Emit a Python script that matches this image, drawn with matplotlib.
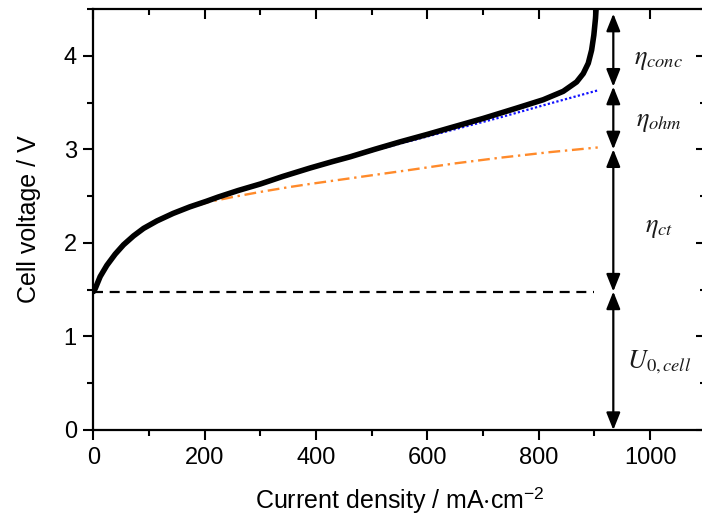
import matplotlib
matplotlib.use("Agg")
import matplotlib.pyplot as plt
from matplotlib.ticker import MultipleLocator

plt.rcParams['font.family'] = ['Liberation Sans', 'DejaVu Sans']
plt.rcParams['mathtext.fontset'] = 'stix'

# Measured polarisation curve (black)
j_cell = [0, 3, 12, 24, 39, 54, 72, 90, 114, 143, 173, 203, 224, 260, 300, 340, 389, 430, 461,
          505, 551, 600, 641, 700, 760, 808, 844, 868, 880, 889, 895, 899, 902, 904]
u_cell = [1.48, 1.51, 1.64, 1.76, 1.88, 1.98, 2.075, 2.155, 2.235, 2.315, 2.385, 2.445, 2.49, 2.56, 2.63,
          2.71, 2.80, 2.87, 2.92, 3.00, 3.08, 3.16, 3.23, 3.33, 3.44, 3.53, 3.62, 3.72, 3.81,
          3.92, 4.06, 4.22, 4.40, 4.59]

# Charge-transfer (activation) contribution (orange dash-dot)
j_ct = [0, 3, 12, 24, 39, 54, 72, 90, 114, 143, 173, 209, 250, 300, 350, 389, 461, 569, 650, 730, 820, 906]
u_ct = [1.48, 1.51, 1.64, 1.76, 1.88, 1.98, 2.075, 2.155, 2.235, 2.31, 2.375, 2.44, 2.49, 2.545, 2.595,
        2.63, 2.69, 2.78, 2.85, 2.91, 2.97, 3.02]

# Ohmic contribution added (blue dotted)
j_ohm = [500, 550, 640, 730, 820, 906]
u_ohm = [2.98, 3.06, 3.20, 3.34, 3.49, 3.63]

u0_cell = 1.48
j_u0_end = 900
j_arrow = 934
arrow_bounds = [0.0, 1.48, 3.0, 3.67, 4.45]
labels = [r'$U_{\mathit{0,cell}}$', r'$\eta_{ct}$', r'$\eta_{ohm}$', r'$\eta_{conc}$']
label_y = [0.72, 2.16, 3.29, 3.95]
label_x = 1016

W, H = 702, 518
fig = plt.figure(figsize=(W / 100, H / 100), dpi=100)
ax = fig.add_axes([93.5 / W, (H - 430) / H, 612.2 / W, 421 / H])

ax.plot(j_ct, u_ct, color='#FF8A2A', lw=1.7, linestyle=(0, (5, 2, 1, 2)), zorder=2)
ax.plot(j_ohm, u_ohm, color='#1010FF', lw=1.6, linestyle=(0, (1, 1)), zorder=2)
ax.plot(j_cell, u_cell, color='black', lw=4.0, zorder=3, solid_capstyle='round', solid_joinstyle='round')
ax.plot([0, j_u0_end], [u0_cell, u0_cell], color='black', lw=1.6, linestyle=(0, (4.5, 3)), zorder=2)

for lo, hi in zip(arrow_bounds[:-1], arrow_bounds[1:]):
    ax.annotate('', xy=(j_arrow, hi), xytext=(j_arrow, lo),
                arrowprops=dict(arrowstyle='<|-|>,head_length=0.75,head_width=0.3', color='black',
                                lw=1.6, shrinkA=0, shrinkB=0, mutation_scale=14),
                annotation_clip=False)

for lab, yy in zip(labels, label_y):
    ax.text(label_x, yy, lab, fontsize=19, ha='center', va='center', color='#1a1a1a')

ax.set_xlim(0, 1100)
ax.set_ylim(0, 4.5)
ax.xaxis.set_major_locator(MultipleLocator(200))
ax.xaxis.set_minor_locator(MultipleLocator(100))
ax.yaxis.set_major_locator(MultipleLocator(1))
ax.yaxis.set_minor_locator(MultipleLocator(0.5))

for s in ax.spines.values():
    s.set_linewidth(1.6)
ax.tick_params(axis='both', which='major', length=7, width=1.5, labelsize=17, pad=5, direction='out')
ax.tick_params(axis='both', which='minor', length=4, width=1.5, direction='out')
ax.tick_params(top=True, right=True, which='both')
for tick in ax.xaxis.get_major_ticks() + ax.xaxis.get_minor_ticks():
    tick.tick2line.set_marker(3)  # inward on top
for tick in ax.yaxis.get_major_ticks() + ax.yaxis.get_minor_ticks():
    tick.tick2line.set_marker(0)  # inward on right

ax.set_xlabel(r'Current density / mA$\cdot$cm$^{\mathregular{-2}}$', fontsize=18, labelpad=12)
ax.set_ylabel('Cell voltage / V', fontsize=18, labelpad=16)

fig.savefig('out.png', dpi=100)
